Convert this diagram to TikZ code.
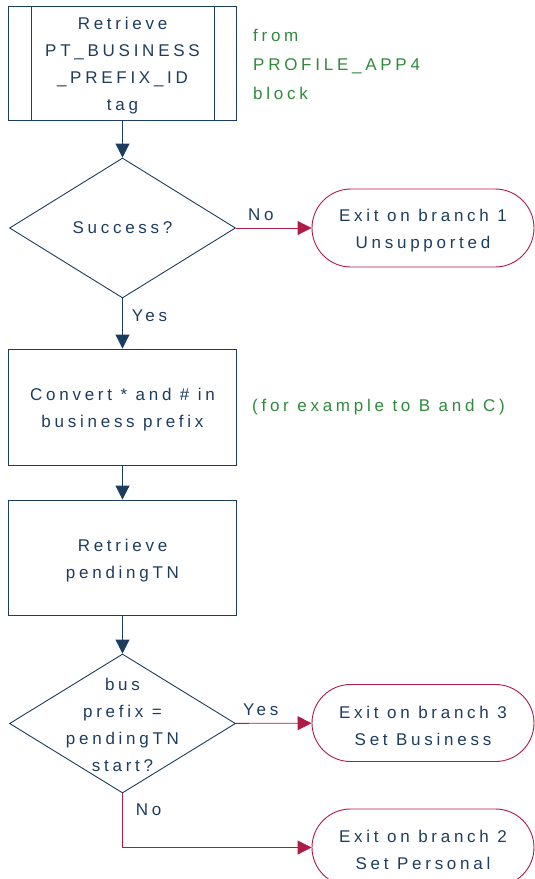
\documentclass[tikz,border=0pt]{standalone}
\usepackage{fontspec}
\usepackage{xcolor}
\usepackage{tikz}
\usetikzlibrary{shapes,arrows,positioning,calc,arrows.meta}
\newfontfamily\chartfont[LetterSpace=22]{Liberation Sans}
\definecolor{chartnavy}{HTML}{1C3D5E}
\definecolor{chartred}{HTML}{B01A46}
\definecolor{chartgreen}{HTML}{2F8A3B}
\newcommand{\toppad}{\rule{0pt}{18pt}}

\begin{document}
\begin{tikzpicture}[x=1pt,y=-1pt,
    chart text/.style={font=\chartfont\fontsize{17pt}{27pt}\selectfont, text=chartnavy, align=center},
    process/.style={chart text, draw=chartnavy, line width=0.9pt, rectangle, minimum width=228pt, inner sep=0pt},
    decision/.style={draw=chartnavy, line width=0.9pt, diamond, minimum width=226pt, minimum height=140pt, inner sep=0pt},
    terminal/.style={chart text, draw=chartred, line width=0.9pt, rounded rectangle, minimum width=222pt, minimum height=78pt, inner sep=0pt},
    note/.style={chart text, text=chartgreen, align=left, anchor=west, inner sep=0pt},
    branch/.style={chart text, inner sep=0pt},
    flow/.style={draw=chartnavy, line width=0.9pt, -{Triangle[length=14pt,width=14pt]}},
    exit/.style={draw=chartred, line width=0.9pt, -{Triangle[length=14pt,width=14pt]}}
]
    \useasboundingbox (0,0) rectangle (535,879);
    % Main column
    \node[process, minimum height=114pt] (get tag) at (122.5,63) {\toppad Retrieve\\PT\_BUSINESS\\\_PREFIX\_ID\\tag};
    \draw[chartnavy, line width=0.9pt] ($(get tag.north west)+(23,0)$) -- ($(get tag.south west)+(23,0)$);
    \draw[chartnavy, line width=0.9pt] ($(get tag.north east)+(-23,0)$) -- ($(get tag.south east)+(-23,0)$);
    \node[decision, label={[chart text]center:Success?}] (success) at (122.5,228) {};
    \node[process, minimum height=116pt] (convert) at (122.5,407) {\toppad Convert * and \# in\\business prefix};
    \node[process, minimum height=115pt] (get tn) at (122.5,557.5) {\toppad Retrieve\\pendingTN};
    \node[decision, minimum height=139pt, label={[chart text, yshift=-1.5pt]center:{bus\\prefix =\\pendingTN\\start?}}] (match) at (122.5,723.5) {};
    % Exits
    \node[terminal] (exit one) at (423,228) {\toppad Exit on branch 1\\Unsupported};
    \node[terminal, minimum height=77pt] (exit three) at (423,723) {\toppad Exit on branch 3\\Set Business};
    \node[terminal, minimum height=77pt] (exit two) at (423,847.5) {\toppad Exit on branch 2\\Set Personal};
    % Notes
    \node[note, font=\chartfont\fontsize{17pt}{29pt}\selectfont] (tag note) at (253,64) {from\\PROFILE\_APP4\\block};
    \node[note] (convert note) at (252,407) {(for example to B and C)};
    % Connectors
    \draw[flow] (get tag) -- (success);
    \draw[flow] (success) -- node[branch, pos=0.34, right=9pt] {Yes} (convert);
    \draw[exit] (success) -- node[branch, pos=0.33, above=7pt] {No} (exit one);
    \draw[flow] (convert) -- (get tn);
    \draw[flow] (get tn) -- (match);
    \draw[exit] (match) -- node[branch, pos=0.33, above=7pt] {Yes} (exit three);
    \draw[exit] (match) |- node[branch, pos=0.15, right=13pt] {No} (exit two);
\end{tikzpicture}
\end{document}
